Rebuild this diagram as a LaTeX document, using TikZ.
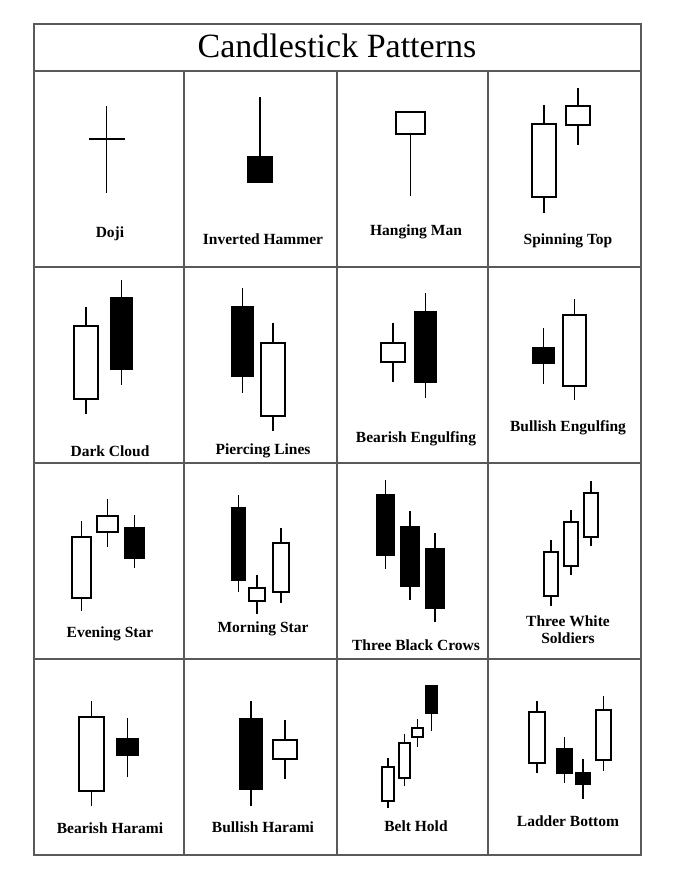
\documentclass[tikz,border=0pt]{standalone}
\usepackage{fontspec}
\setmainfont{Liberation Serif}
\begin{document}
\begin{tikzpicture}[x=1pt,y=-1pt,
  grid/.style={draw=black!65,line width=1.1pt},
  wick/.style={line width=1.4pt},
  body/.style={line width=1.8pt},
  lbl/.style={font=\fontsize{15.5}{17}\selectfont\bfseries,align=center}]
\useasboundingbox (0,0) rectangle (689,873);
\fill[white] (0,0) rectangle (689,873);
% cdl{x}{wicktop}{bodytop}{bodybottom}{wickbottom}{halfwidth}{fill}
\newcommand\cdl[7]{%
  \draw[wick] (#1,#2) -- (#1,#5);
  \draw[body,fill=#7] (#1-#6,#3) rectangle (#1+#6,#4);}
% grid
\draw[grid] (34,24) rectangle (641,855);
\draw[grid] (34,71) -- (641,71);
\draw[grid] (34,267) -- (641,267);
\draw[grid] (34,463) -- (641,463);
\draw[grid] (34,659) -- (641,659);
\foreach \x in {184,337,488} \draw[grid] (\x,71) -- (\x,855);
\node[font=\fontsize{34}{36}\selectfont] (title) at (337,46) {Candlestick Patterns};
% row 1
\draw[wick] (106.5,106) -- (106.5,193);
\draw[wick] (89,139) -- (125,139);
\node[lbl] (l1) at (110,234) {Doji};
\cdl{260}{97}{157}{182}{170}{12.5}{black}
\node[lbl] (l2) at (263,239) {Inverted Hammer};
\cdl{410.5}{120}{112}{134}{196}{14.5}{white}
\node[lbl] (l3) at (416,232) {Hanging Man};
\cdl{544}{105}{124}{197}{213}{12}{white}
\cdl{578}{88}{106}{125}{145}{12}{white}
\node[lbl] (l4) at (568,241) {Spinning Top};
% row 2
\cdl{86}{307}{326}{399}{414}{12}{white}
\cdl{121.5}{280}{298}{369}{385}{10.5}{black}
\node[lbl] (l5) at (110,451) {Dark Cloud};
\cdl{242.5}{288}{307}{376}{393}{10.5}{black}
\cdl{273}{323}{343}{416}{431}{12}{white}
\node[lbl] (l6) at (263,451) {Piercing Lines};
\cdl{393}{323}{343}{362}{382}{12}{white}
\cdl{425.5}{293}{312}{382}{398}{10.5}{black}
\node[lbl] (l7) at (416,439) {Bearish Engulfing};
\cdl{543.5}{328}{348}{363}{384}{10.5}{black}
\cdl{574.5}{299}{315}{386}{400}{11.5}{white}
\node[lbl] (l8) at (568,428) {Bullish Engulfing};
% row 3
\cdl{81.5}{521}{537}{598}{611}{9.5}{white}
\cdl{107.5}{499}{516}{532}{547}{10.5}{white}
\cdl{134.5}{515}{528}{558}{568}{9.5}{black}
\node[lbl] (l9) at (110,634) {Evening Star};
\cdl{238.5}{495}{508}{580}{592}{6.5}{black}
\cdl{257}{575}{588}{601}{614}{8}{white}
\cdl{281}{528}{543}{592}{603}{8}{white}
\node[lbl] (l10) at (263,629) {Morning Star};
\cdl{385.5}{480}{495}{555}{569}{8.5}{black}
\cdl{410}{511}{527}{586}{600}{9}{black}
\cdl{435}{533}{549}{608}{622}{9}{black}
\node[lbl] (l11) at (416,645) {Three Black Crows};
\cdl{551}{540}{552}{596}{606}{7}{white}
\cdl{571}{510}{522}{566}{575}{7}{white}
\cdl{591}{481}{493}{537}{546}{7}{white}
\node[lbl] (l12) at (568,630) {Three White\\Soldiers};
% row 4
\cdl{91.5}{701}{717}{791}{806}{12.5}{white}
\cdl{127.5}{718}{739}{755}{777}{10.5}{black}
\node[lbl] (l13) at (110,828) {Bearish Harami};
\cdl{251}{701}{719}{789}{806}{11}{black}
\cdl{285}{720}{740}{759}{779}{12}{white}
\node[lbl] (l14) at (263,827) {Bullish Harami};
\cdl{388}{758}{767}{801}{808}{6}{white}
\cdl{404.5}{734}{743}{778}{786}{5.5}{white}
\cdl{417.5}{719}{728}{737}{747}{5.5}{white}
\cdl{431.5}{686}{686}{713}{731}{5.5}{black}
\node[lbl] (l15) at (416,826) {Belt Hold};
\cdl{537}{701}{712}{763}{773}{8}{white}
\cdl{564.5}{737}{749}{773}{783}{7.5}{black}
\cdl{583}{759}{773}{784}{799}{7}{black}
\cdl{603.5}{696}{710}{760}{771}{7.5}{white}
\node[lbl] (l16) at (568,821) {Ladder Bottom};
\end{tikzpicture}
\end{document}
